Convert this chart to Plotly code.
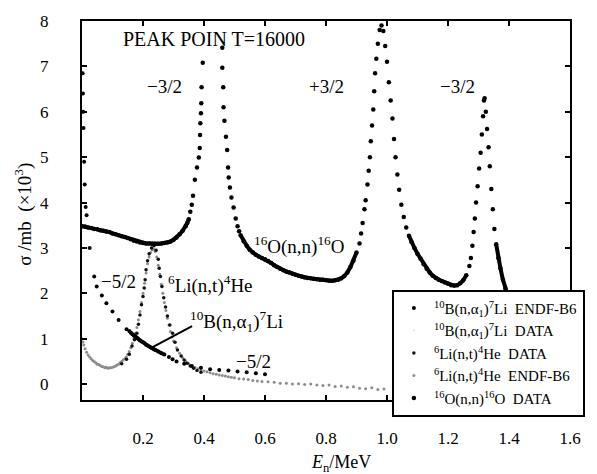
import plotly.graph_objects as go

# ---------------- data (values in units of 10^3 mb, energies in MeV) ----------------
O16_E = [
    0.000, 0.010, 0.020, 0.030, 0.040, 0.050, 0.060, 0.070, 0.080, 0.090,
    0.100, 0.110, 0.120, 0.130, 0.140, 0.150, 0.160, 0.170, 0.180, 0.190,
    0.200, 0.210, 0.220, 0.230, 0.240, 0.250, 0.260, 0.270, 0.280, 0.290,
    0.300, 0.310, 0.320, 0.330, 0.340, 0.345, 0.350, 0.355, 0.360, 0.364,
    0.370, 0.377, 0.383, 0.386, 0.387, 0.388, 0.390, 0.391, 0.392, 0.396,
    0.460, 0.460, 0.463, 0.464, 0.467, 0.472, 0.476, 0.479, 0.481, 0.485,
    0.490, 0.497, 0.504, 0.510, 0.515, 0.520, 0.530, 0.540, 0.550, 0.560,
    0.570, 0.580, 0.590, 0.600, 0.610, 0.620, 0.630, 0.640, 0.650, 0.660,
    0.670, 0.680, 0.690, 0.700, 0.710, 0.720, 0.730, 0.740, 0.750, 0.760,
    0.770, 0.780, 0.790, 0.800, 0.810, 0.820, 0.830, 0.840, 0.850, 0.860,
    0.870, 0.880, 0.890, 0.900, 0.910, 0.915, 0.920, 0.926, 0.930, 0.936,
    0.940, 0.944, 0.947, 0.951, 0.955, 0.958, 0.961, 0.965, 0.970, 0.976,
    0.982, 0.988, 0.994, 1.000, 1.006, 1.012, 1.018, 1.023, 1.028, 1.034,
    1.040, 1.047, 1.055, 1.063, 1.072, 1.080, 1.090, 1.100, 1.110, 1.120,
    1.130, 1.140, 1.150, 1.160, 1.170, 1.180, 1.190, 1.200, 1.210, 1.220,
    1.230, 1.240, 1.250, 1.260, 1.270, 1.275, 1.280, 1.284, 1.288, 1.292,
    1.297, 1.302, 1.307, 1.311, 1.315, 1.318, 1.320, 1.324, 1.328, 1.333,
    1.337, 1.342, 1.347, 1.352, 1.358, 1.365, 1.372, 1.380, 1.388, 1.395,
]
O16_S = [
    3.48, 3.47, 3.45, 3.44, 3.42, 3.41, 3.39, 3.38, 3.36, 3.35,
    3.32, 3.30, 3.28, 3.26, 3.24, 3.22, 3.19, 3.16, 3.14, 3.12,
    3.11, 3.10, 3.10, 3.09, 3.09, 3.09, 3.10, 3.11, 3.12, 3.14,
    3.18, 3.23, 3.30, 3.38, 3.48, 3.55, 3.63, 3.80, 3.95, 4.15,
    4.50, 4.77, 4.99, 5.20, 5.49, 5.75, 5.97, 6.19, 6.54, 7.08,
    7.41, 6.97, 6.54, 6.10, 5.80, 5.45, 5.16, 4.77, 4.55, 4.33,
    4.11, 3.89, 3.65, 3.48, 3.37, 3.28, 3.15, 3.05, 2.96, 2.90,
    2.85, 2.81, 2.78, 2.75, 2.71, 2.67, 2.62, 2.58, 2.54, 2.51,
    2.48, 2.46, 2.43, 2.41, 2.39, 2.37, 2.35, 2.34, 2.33, 2.32,
    2.31, 2.30, 2.30, 2.29, 2.28, 2.28, 2.29, 2.30, 2.33, 2.38,
    2.46, 2.58, 2.72, 2.90, 3.10, 3.32, 3.55, 3.85, 4.05, 4.40,
    4.70, 5.00, 5.35, 5.70, 6.05, 6.45, 6.85, 7.17, 7.50, 7.80,
    7.90, 7.78, 7.45, 7.10, 6.65, 6.25, 5.85, 5.40, 5.00, 4.62,
    4.28, 3.95, 3.68, 3.45, 3.27, 3.13, 3.00, 2.87, 2.76, 2.64,
    2.54, 2.46, 2.39, 2.34, 2.30, 2.27, 2.24, 2.21, 2.18, 2.17,
    2.18, 2.22, 2.29, 2.40, 2.60, 2.78, 3.05, 3.35, 3.65, 4.00,
    4.36, 4.75, 5.10, 5.50, 5.90, 6.25, 6.30, 6.00, 5.62, 5.22,
    4.80, 4.30, 3.85, 3.42, 3.08, 2.78, 2.55, 2.30, 2.10, 1.98,
]
# energy windows in which the measured 16O points are so dense they merge into a band
O16_DENSE_WINDOWS = [(0.0, 0.352), (0.52, 0.905), (1.07, 1.262), (1.358, 1.395)]

LI_ENDF_E = [
    0.000, 0.003, 0.006, 0.010, 0.015, 0.020, 0.025, 0.030, 0.035, 0.040,
    0.045, 0.050, 0.055, 0.060, 0.065, 0.070, 0.075, 0.080, 0.085, 0.090,
    0.095, 0.100, 0.105, 0.110, 0.115, 0.120, 0.125, 0.130, 0.135, 0.140,
    0.145, 0.150, 0.155, 0.160, 0.165, 0.170, 0.175, 0.180, 0.185, 0.190,
    0.195, 0.200, 0.205, 0.210, 0.215, 0.220, 0.225, 0.230, 0.235, 0.240,
    0.245, 0.250, 0.255, 0.260, 0.265, 0.270, 0.275, 0.280, 0.285, 0.290,
    0.295, 0.300, 0.310, 0.320, 0.330, 0.340, 0.350, 0.360, 0.370, 0.380,
    0.390, 0.400, 0.410, 0.420, 0.430, 0.440, 0.450, 0.460, 0.470, 0.480,
    0.490, 0.500, 0.515, 0.530, 0.545, 0.560, 0.575, 0.590, 0.610, 0.630,
    0.650, 0.670, 0.690, 0.710, 0.730, 0.750, 0.770, 0.790, 0.810, 0.830,
    0.850, 0.870, 0.890, 0.910, 0.930, 0.950, 0.970, 0.990,
]
LI_ENDF_S = [
    1.00, 0.93, 0.86, 0.78, 0.70, 0.64, 0.60, 0.56, 0.52, 0.50,
    0.47, 0.44, 0.43, 0.41, 0.39, 0.38, 0.36, 0.37, 0.35, 0.36,
    0.36, 0.37, 0.38, 0.40, 0.42, 0.44, 0.47, 0.50, 0.53, 0.56,
    0.60, 0.66, 0.72, 0.80, 0.90, 1.00, 1.12, 1.25, 1.42, 1.60,
    1.80, 2.00, 2.22, 2.45, 2.65, 2.80, 2.90, 2.96, 2.97, 2.92,
    2.80, 2.62, 2.42, 2.20, 2.00, 1.80, 1.62, 1.45, 1.30, 1.16,
    1.04, 0.95, 0.80, 0.68, 0.58, 0.51, 0.45, 0.41, 0.37, 0.34,
    0.31, 0.29, 0.27, 0.25, 0.23, 0.22, 0.20, 0.19, 0.18, 0.16,
    0.15, 0.14, 0.12, 0.11, 0.10, 0.08, 0.07, 0.06, 0.05, 0.04,
    0.02, 0.02, 0.00, 0.01, -0.01, 0.00, -0.02, -0.03, -0.02, -0.05,
    -0.04, -0.07, -0.06, -0.09, -0.10, -0.08, -0.12, -0.11,
]

LI_DATA_E = [
    0.130, 0.146, 0.155, 0.164, 0.172, 0.180, 0.185, 0.190, 0.195, 0.200,
    0.204, 0.207, 0.210, 0.215, 0.220, 0.228, 0.236, 0.243, 0.250, 0.253,
    0.257, 0.262, 0.268, 0.274, 0.280, 0.288, 0.297, 0.305, 0.313, 0.325,
    0.335, 0.345, 0.355, 0.366, 0.377, 0.390,
]
LI_DATA_S = [
    0.45, 0.55, 0.66, 0.84, 0.98, 1.12, 1.32, 1.52, 1.75, 1.93,
    2.12, 2.30, 2.52, 2.72, 2.87, 3.00, 3.05, 2.95, 2.75, 2.55,
    2.37, 2.15, 1.90, 1.70, 1.50, 1.30, 1.12, 0.92, 0.75, 0.62,
    0.53, 0.46, 0.40, 0.35, 0.30, 0.26,
]

B_ENDF_E = [
    0.002, 0.003, 0.004, 0.005, 0.007, 0.009, 0.012, 0.015, 0.025, 0.040,
    0.048, 0.065, 0.080, 0.100, 0.120, 0.146, 0.155, 0.160, 0.165, 0.170,
    0.175, 0.180, 0.185, 0.190, 0.195, 0.200, 0.205, 0.210, 0.215, 0.220,
    0.225, 0.230, 0.235, 0.240, 0.250, 0.260, 0.270, 0.285, 0.297, 0.310,
    0.335, 0.360, 0.390, 0.420, 0.450, 0.480, 0.510, 0.540, 0.570, 0.600,
]
B_ENDF_S = [
    6.85, 6.40, 6.00, 5.64, 4.90, 4.40, 3.90, 3.72, 3.00, 2.37,
    2.15, 1.95, 1.78, 1.60, 1.41, 1.21, 1.17, 1.13, 1.10, 1.07,
    1.05, 1.02, 0.99, 0.96, 0.94, 0.92, 0.90, 0.87, 0.85, 0.83,
    0.81, 0.79, 0.77, 0.75, 0.72, 0.68, 0.65, 0.60, 0.55, 0.50,
    0.45, 0.40, 0.36, 0.33, 0.31, 0.30, 0.28, 0.26, 0.24, 0.22,
]
# 10B ENDF points that are dense enough to merge into a short thick band
B_DENSE_WINDOW = (0.15, 0.27)

B_DATA_E = [0.16, 0.18, 0.20, 0.22, 0.24, 0.26]
B_DATA_S = [1.12, 1.01, 0.91, 0.82, 0.74, 0.67]

X_TICKS = [0.2, 0.4, 0.6, 0.8, 1.0, 1.2, 1.4, 1.6]
X_TICK_TEXT = ["0.2", "0.4", "0.6", "0.8", "1.0", "1.2", "1.4", "1.6"]
Y_TICKS = [0, 1, 2, 3, 4, 5, 6, 7, 8]

NAMES = {
    "b_endf": "<sup>10</sup>B(n,α<sub>1</sub>)<sup>7</sup>Li  ENDF-B6",
    "b_data": "<sup>10</sup>B(n,α<sub>1</sub>)<sup>7</sup>Li  DATA",
    "li_data": "<sup>6</sup>Li(n,t)<sup>4</sup>He  DATA",
    "li_endf": "<sup>6</sup>Li(n,t)<sup>4</sup>He  ENDF-B6",
    "o_data": "<sup>16</sup>O(n,n)<sup>16</sup>O  DATA",
}

FONT = "Liberation Serif"


def band(xs, ys, windows):
    """Subset of the points inside the given windows, separated by gaps."""
    bx, by = [], []
    for lo, hi in windows:
        for x, y in zip(xs, ys):
            if lo <= x <= hi:
                bx.append(x)
                by.append(y)
        bx.append(None)
        by.append(None)
    return bx, by


fig = go.Figure()
fig.add_trace(go.Scatter(x=LI_ENDF_E, y=LI_ENDF_S, mode="markers", name=NAMES["li_endf"],
                         legendrank=4, marker=dict(color="#8c8c8c", size=3)))
fig.add_trace(go.Scatter(x=B_DATA_E, y=B_DATA_S, mode="markers", name=NAMES["b_data"],
                         legendrank=2, marker=dict(color="#e0e0e0", size=2)))
fig.add_trace(go.Scatter(x=LI_DATA_E, y=LI_DATA_S, mode="markers", name=NAMES["li_data"],
                         legendrank=3, marker=dict(color="#111111", size=3.5)))
fig.add_trace(go.Scatter(x=B_ENDF_E, y=B_ENDF_S, mode="markers", name=NAMES["b_endf"],
                         legendrank=1, marker=dict(color="#000000", size=4)))
bbx, bby = band(B_ENDF_E, B_ENDF_S, [B_DENSE_WINDOW])
fig.add_trace(go.Scatter(x=bbx, y=bby, mode="lines", showlegend=False, hoverinfo="skip",
                         line=dict(color="#000000", width=3.5)))
fig.add_trace(go.Scatter(x=O16_E, y=O16_S, mode="markers", name=NAMES["o_data"],
                         legendrank=5, marker=dict(color="#000000", size=4.5)))
obx, oby = band(O16_E, O16_S, O16_DENSE_WINDOWS)
fig.add_trace(go.Scatter(x=obx, y=oby, mode="lines", showlegend=False, hoverinfo="skip",
                         line=dict(color="#000000", width=4)))

ann_font = dict(family=FONT, size=19, color="black")
annotations = [
    dict(x=0.128, y=7.61, text="PEAK POIN T=16000", xanchor="left", font=dict(family=FONT, size=20, color="black")),
    dict(x=0.271, y=6.55, text="−3/2", font=ann_font),
    dict(x=0.80, y=6.55, text="+3/2", font=ann_font),
    dict(x=1.230, y=6.55, text="−3/2", font=ann_font),
    dict(x=0.712, y=3.06, text="<sup>16</sup>O(n,n)<sup>16</sup>O", font=ann_font),
    dict(x=0.121, y=2.27, text="−5/2", font=ann_font),
    dict(x=0.422, y=2.19, text="<sup>6</sup>Li(n,t)<sup>4</sup>He", font=ann_font),
    dict(x=0.505, y=1.39, text="<sup>10</sup>B(n,α<sub>1</sub>)<sup>7</sup>Li", font=ann_font),
    dict(x=0.562, y=0.50, text="−5/2", font=ann_font),
]
for a in annotations:
    a.update(xref="x", yref="y", showarrow=False)

annotations.append(dict(xref="paper", yref="paper", x=0.53, y=-0.168, xanchor="center", yanchor="middle",
                        showarrow=False, text="<i>E</i><sub>n</sub>/MeV",
                        font=dict(family=FONT, size=18, color="black")))
annotations.append(dict(xref="paper", yref="paper", x=-0.12, y=0.49, xanchor="center", yanchor="middle",
                        showarrow=False, textangle=-90, text="σ /mb  (×10<sup>3</sup>)",
                        font=dict(family=FONT, size=19, color="black")))

fig.add_shape(type="line", xref="x", yref="y", x0=0.227, y0=0.80, x1=0.361, y1=1.28,
              line=dict(color="black", width=2))

axis_common = dict(showline=True, linecolor="black", linewidth=2, mirror="ticks",
                   ticks="inside", ticklen=5, tickwidth=1.5, tickcolor="black",
                   showgrid=False, zeroline=False,
                   tickfont=dict(family=FONT, size=17, color="black"))

fig.update_layout(
    width=597, height=474,
    margin=dict(l=82, r=14, t=15, b=74),
    paper_bgcolor="white", plot_bgcolor="white",
    font=dict(family=FONT, color="black"),
    xaxis=dict(range=[0, 1.6], tickvals=X_TICKS, ticktext=X_TICK_TEXT, ticklabelstandoff=22, **axis_common),
    yaxis=dict(range=[-0.35, 8], tickvals=Y_TICKS, ticklabelstandoff=28, **axis_common),
    annotations=annotations,
    showlegend=True,
    legend=dict(x=0.635, y=0.291, xanchor="left", yanchor="top",
                bgcolor="white", bordercolor="black", borderwidth=2,
                font=dict(family=FONT, size=15, color="black"),
                itemwidth=30, tracegroupgap=0),
)

fig.write_html("out.html")
